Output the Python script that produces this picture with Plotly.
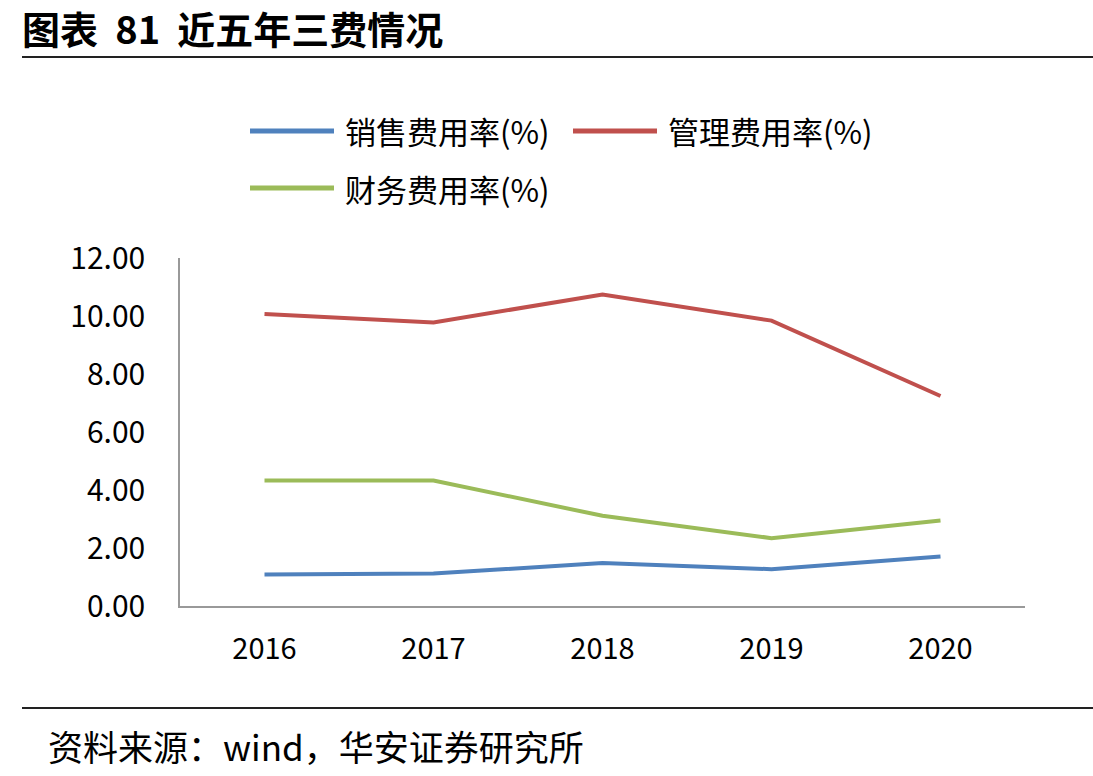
import plotly.graph_objects as go

years = ["2016", "2017", "2018", "2019", "2020"]
sales_rate = [1.09, 1.12, 1.48, 1.27, 1.71]
admin_rate = [10.07, 9.78, 10.74, 9.84, 7.24]
fin_rate = [4.33, 4.33, 3.11, 2.34, 2.95]
series_names = ["销售费用率(%)", "管理费用率(%)", "财务费用率(%)"]
series_colors = ["#4F81BD", "#C0504D", "#9BBB59"]
y_ticks = [0, 2, 4, 6, 8, 10, 12]

FONT = "Noto Sans CJK SC"
W, H = 1093, 776
PL, PR, PT, PB = 180, 1025, 258, 606


def px(x):
    return (x - PL) / (PR - PL)


def py(y):
    return (PB - y) / (PB - PT)


fig = go.Figure()
for name, vals, col in zip(series_names, [sales_rate, admin_rate, fin_rate], series_colors):
    fig.add_trace(go.Scatter(x=years, y=vals, name=name, mode="lines",
                             line=dict(color=col, width=4), showlegend=False))

fig.update_layout(
    width=W, height=H,
    paper_bgcolor="white", plot_bgcolor="white",
    margin=dict(l=PL, r=W - PR, t=PT, b=H - PB),
    font=dict(family=FONT, size=26, color="black"),
    showlegend=False,
    xaxis=dict(type="category", range=[-0.5, 4.5], showgrid=False,
               showline=True, linecolor="#999999", linewidth=1.5,
               ticks="", ticklabelstandoff=16,
               tickfont=dict(family=FONT, size=29)),
    yaxis=dict(range=[0, 12], tickvals=y_ticks, tickformat=".2f", showgrid=False,
               showline=True, linecolor="#999999", linewidth=1.5,
               ticks="", ticklabelstandoff=27, zeroline=False,
               tickfont=dict(family=FONT, size=30)),
)

# legend (drawn manually to match the long line swatches)
legend_pos = [(250, 131), (573, 131), (250, 188)]
for name, col, (lx, ly) in zip(series_names, series_colors, legend_pos):
    fig.add_shape(type="line", xref="paper", yref="paper",
                  x0=px(lx), x1=px(lx + 84), y0=py(ly), y1=py(ly),
                  line=dict(color=col, width=5))
    fig.add_annotation(text=name, xref="paper", yref="paper",
                       x=px(lx + 93), y=py(ly), xanchor="left", yanchor="middle",
                       showarrow=False, font=dict(family=FONT, size=31, color="black"))

# title, rules and source
fig.add_annotation(text="<b>图表  81  近五年三费情况</b>", xref="paper", yref="paper",
                   x=px(20), y=py(27), xanchor="left", yanchor="middle",
                   showarrow=False, font=dict(family=FONT, size=38, color="black"))
fig.add_shape(type="line", xref="paper", yref="paper",
              x0=px(22), x1=px(1093), y0=py(57), y1=py(57),
              line=dict(color="#222222", width=2))
fig.add_shape(type="line", xref="paper", yref="paper",
              x0=px(22), x1=px(1093), y0=py(708), y1=py(708),
              line=dict(color="#222222", width=2))
fig.add_annotation(text="资料来源：wind，华安证券研究所", xref="paper", yref="paper",
                   x=px(46), y=py(745), xanchor="left", yanchor="middle",
                   showarrow=False, font=dict(family=FONT, size=35, color="black"))

fig.write_html("out.html")
